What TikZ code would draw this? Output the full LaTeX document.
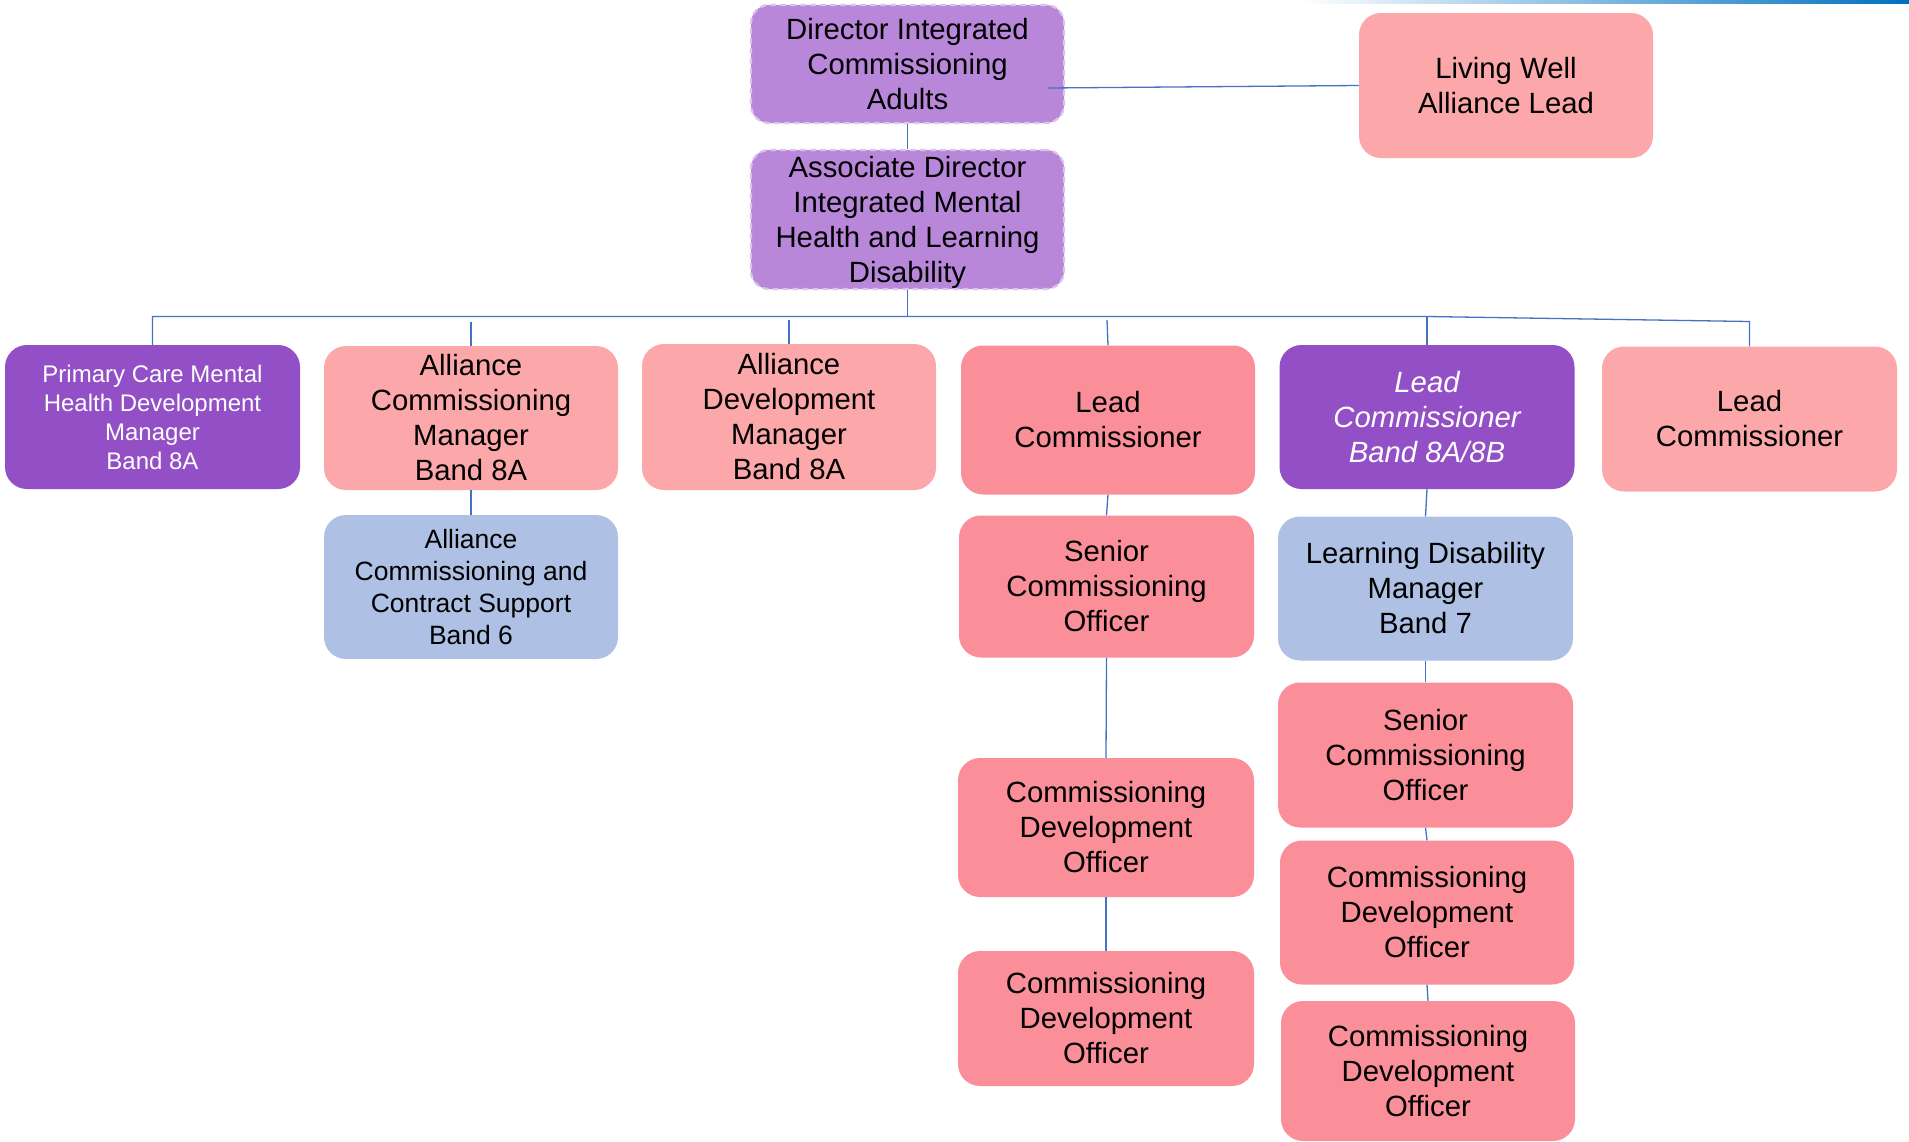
\documentclass[tikz,border=0pt]{standalone}
\usepackage{fontspec}
\setmainfont{Liberation Sans}
\definecolor{purpL}{HTML}{B987DA}
\definecolor{purpD}{HTML}{934FC5}
\definecolor{pinkL}{HTML}{FCA8AA}
\definecolor{pinkD}{HTML}{FB8F99}
\definecolor{blueL}{HTML}{AEC0E4}
\definecolor{conn}{HTML}{4472C4}
\definecolor{topblue}{HTML}{0070C0}
\tikzset{
  box/.style={rectangle, rounded corners=22pt, inner sep=0pt, align=center,
    font=\fontsize{29.3}{35}\selectfont, text=black},
  wh/.style={minimum width=#1},
  ht/.style={minimum height=#1},
  topbox/.style={box, fill=purpL, draw=purpL!50!white, dashed, dash pattern=on 6pt off 4pt, line width=2.2pt, rounded corners=18pt},
  pinkLbox/.style={box, fill=pinkL},
  pinkDbox/.style={box, fill=pinkD},
  blueLbox/.style={box, fill=blueL},
  purpDbox/.style={box, fill=purpD, text=white},
  link/.style={draw=conn, line width=1.3pt}
}
\begin{document}
\begin{tikzpicture}[x=1pt,y=-1pt]
\useasboundingbox (0,0) rectangle (1909,1141);
\fill[white] (0,0) rectangle (1909,1141);
% top right gradient rule
\shade[left color=white, right color=topblue] (1300,0) rectangle (1909,3);

% nodes
\node[topbox, wh=313pt, ht=118pt] (dir) at (907.5,64) {Director Integrated\\Commissioning\\Adults};
\node[topbox, wh=313pt, ht=139pt, text depth=0pt] (assoc) at (907.5,219.5) {Associate Director\\Integrated Mental\\Health and Learning\\Disability};
\node[pinkLbox, wh=294pt, ht=145pt] (lw) at (1506,85.5) {Living Well\\Alliance Lead};

\node[purpDbox, wh=295pt, ht=144pt, font=\fontsize{24}{29}\selectfont] (pc) at (152.5,417) {Primary Care Mental\\Health Development\\Manager\\Band 8A};
\node[pinkLbox, wh=294pt, ht=144pt] (acm) at (471,418) {Alliance\\Commissioning\\Manager\\Band 8A};
\node[pinkLbox, wh=294pt, ht=146pt] (adm) at (789,417) {Alliance\\Development\\Manager\\Band 8A};
\node[pinkDbox, wh=294pt, ht=149pt] (lc1) at (1108,420) {Lead\\Commissioner};
\node[purpDbox, wh=295pt, ht=144pt, font=\fontsize{29.3}{35}\selectfont\itshape] (lcb) at (1427,417) {Lead\\Commissioner\\Band 8A/8B};
\node[pinkLbox, wh=295pt, ht=145pt] (lc3) at (1749.5,419) {Lead\\Commissioner};

\node[blueLbox, wh=294pt, ht=144pt, font=\fontsize{26.5}{32}\selectfont] (accs) at (471,587) {Alliance\\Commissioning and\\Contract Support\\Band 6};
\node[pinkDbox, wh=295pt, ht=142pt] (sco1) at (1106.5,586.5) {Senior\\Commissioning\\Officer};
\node[blueLbox, wh=295pt, ht=144pt] (ldm) at (1425.5,588.5) {Learning Disability\\Manager\\Band 7};
\node[pinkDbox, wh=295pt, ht=145pt] (scor) at (1425.5,755) {Senior\\Commissioning\\Officer};
\node[pinkDbox, wh=296pt, ht=139pt] (cdol1) at (1106,827.5) {Commissioning\\Development\\Officer};
\node[pinkDbox, wh=296pt, ht=135pt] (cdol2) at (1106,1018.5) {Commissioning\\Development\\Officer};
\node[pinkDbox, wh=294pt, ht=144pt] (cdor1) at (1427,912.5) {Commissioning\\Development\\Officer};
\node[pinkDbox, wh=294pt, ht=140pt] (cdor2) at (1428,1071) {Commissioning\\Development\\Officer};

% bus coordinates
\coordinate (busL) at (152.5,316.5);
\coordinate (busM) at (907.5,316.5);
\coordinate (busR) at (1427,316.5);
\coordinate (busE) at (1749.5,321.5);
\coordinate (tacm) at (471,322);
\coordinate (tadm) at (789,320);
\coordinate (tlc1) at (1107,320);
\coordinate (dirR) at (1048,88);

% connectors
\draw[link] (dirR) -- (lw.west);
\draw[link] (dir.south) -- (assoc.north);
\draw[link] (assoc.south) -- (busM);
\draw[link] (pc.north) -- (busL) -- (busR) -- (busE) -- (lc3.north);
\draw[link] (busR) -- (lcb.north);
\draw[link] (tacm) -- (acm.north);
\draw[link] (tadm) -- (adm.north);
\draw[link] (tlc1) -- (lc1.north);
\draw[link] (acm.south) -- (accs.north);
\draw[link] (lc1.south) -- (sco1.north);
\draw[link] (sco1.south) -- (cdol1.north);
\draw[link] (cdol1.south) -- (cdol2.north);
\draw[link] (lcb.south) -- (ldm.north);
\draw[link] (ldm.south) -- (scor.north);
\draw[link] (scor.south) -- (cdor1.north);
\draw[link] (cdor1.south) -- (cdor2.north);
\end{tikzpicture}
\end{document}
